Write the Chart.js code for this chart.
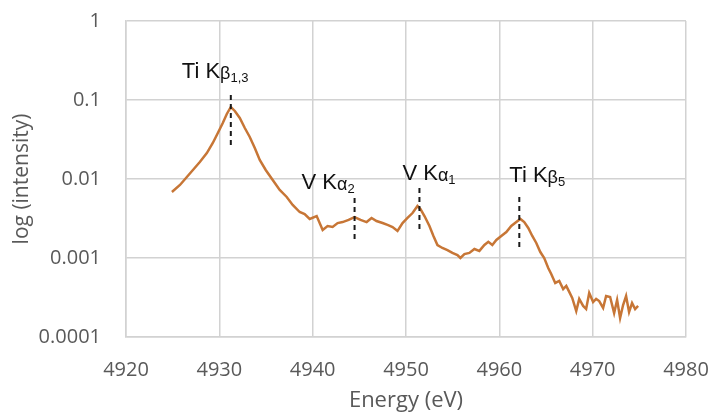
<!DOCTYPE html>
<html>
<head>
<meta charset="utf-8">
<script src="https://cdn.jsdelivr.net/npm/chart.js@4.4.0/dist/chart.umd.min.js"></script>
<style>
  html, body { margin: 0; padding: 0; background: #fff; overflow: hidden; }
  canvas { display: block; }
</style>
</head>
<body>
<canvas id="c" width="712" height="418"></canvas>
<script>
// Spectrum
const energy = [
  4924.92, 4925.78, 4926.52, 4927.17, 4927.91, 4928.66, 4929.30, 4929.84, 4930.37, 4930.80,
  4931.23, 4931.66, 4932.19, 4932.73, 4933.26, 4933.80, 4934.33, 4934.97, 4935.72, 4936.47,
  4937.22, 4937.86, 4938.61, 4939.14, 4939.68, 4940.43, 4941.07, 4941.60, 4942.14, 4942.67,
  4943.21, 4943.85, 4944.49, 4945.13, 4945.78, 4946.31, 4946.84, 4947.49, 4948.02, 4948.56,
  4949.09, 4949.63, 4950.16, 4950.70, 4951.23, 4951.55, 4951.98, 4952.51, 4952.94, 4953.37,
  4953.90, 4954.44, 4954.97, 4955.51, 4955.83, 4956.26, 4956.79, 4957.33, 4957.86, 4958.40,
  4958.82, 4959.25, 4959.68, 4960.21, 4960.75, 4961.28, 4961.82, 4962.25, 4962.67, 4963.10,
  4963.53, 4963.96, 4964.39, 4964.81, 4965.24, 4965.56, 4965.99, 4966.42, 4966.84, 4967.17,
  4967.49, 4967.81, 4968.24, 4968.56, 4968.98, 4969.30, 4969.63, 4970.05, 4970.37, 4970.70,
  4971.12, 4971.44, 4971.87, 4972.30, 4972.62, 4972.94, 4973.26, 4973.58, 4973.90, 4974.22,
  4974.55, 4974.87
];
const intensity = [
  0.00685, 0.0084, 0.0106, 0.0130, 0.0164, 0.0213, 0.0286, 0.0382, 0.0512, 0.0665,
  0.0815, 0.0726, 0.0592, 0.0442, 0.0340, 0.0247, 0.0174, 0.0130, 0.0097, 0.00726,
  0.00592, 0.00469, 0.00382, 0.00360, 0.00312, 0.00340, 0.00226, 0.00254, 0.00247, 0.00277,
  0.00285, 0.00303, 0.00330, 0.00303, 0.00285, 0.00321, 0.00294, 0.00277, 0.00262, 0.00247,
  0.00220, 0.00277, 0.00321, 0.00371, 0.00455, 0.00417, 0.00340, 0.00254, 0.00190, 0.00146,
  0.00134, 0.00126, 0.00116, 0.00109, 0.00100, 0.00112, 0.00116, 0.00130, 0.00123, 0.00146,
  0.00160, 0.00146, 0.00169, 0.00190, 0.00213, 0.00254, 0.00285, 0.00312, 0.00285, 0.00240,
  0.00190, 0.00155, 0.00119, 0.00100, 0.000747, 0.000627, 0.000483, 0.000512, 0.000405, 0.000443,
  0.000372, 0.000312, 0.000213, 0.000303, 0.000247, 0.000226, 0.000361, 0.000277, 0.000303, 0.000285,
  0.000233, 0.000330, 0.000321, 0.000201, 0.000294, 0.000174, 0.000254, 0.000330, 0.000207, 0.000269,
  0.000226, 0.000247
];

// Peak markers (dashed lines)
const markerEnergy = [4931.23, 4944.49, 4951.44, 4962.14];
const markerTop    = [0.1157, 0.00574, 0.00769, 0.00592];
const markerBottom = [0.0247, 0.00169, 0.00226, 0.00126];
const markerMain   = ['Ti K', 'V K', 'V K', 'Ti K'];
const markerGreek  = ['β', 'α', 'α', 'β'];
const markerSub    = ['1,3', '2', '1', '5'];

const yTicks = [0.0001, 0.001, 0.01, 0.1, 1];

const GRID = '#d2d2d2';
const TEXT = '#595959';

const datasets = [{
  label: 'spectrum',
  data: energy.map((e, i) => ({ x: e, y: intensity[i] })),
  borderColor: '#c77636',
  borderWidth: 2.5,
  pointRadius: 0,
  tension: 0,
  order: 2
}];

markerEnergy.forEach((e, i) => {
  datasets.push({
    label: markerMain[i] + markerGreek[i] + markerSub[i],
    data: [{ x: e, y: markerTop[i] }, { x: e, y: markerBottom[i] }],
    borderColor: '#1a1a1a',
    borderWidth: 2,
    borderDash: [5, 4],
    pointRadius: 0,
    order: 1
  });
});

// label offsets in px relative to the top of each dashed line
const labelOffset = [[-49, -17], [-53, -9], [-17, -8], [-10, -15]];

const peakLabels = {
  id: 'peakLabels',
  afterDatasetsDraw(chart) {
    const { ctx, scales: { x, y } } = chart;
    ctx.save();
    ctx.fillStyle = '#111';
    ctx.textBaseline = 'alphabetic';
    ctx.textAlign = 'left';
    markerEnergy.forEach((e, i) => {
      let px = x.getPixelForValue(e) + labelOffset[i][0];
      const py = y.getPixelForValue(markerTop[i]) + labelOffset[i][1];
      ctx.font = '22px "Liberation Sans", Arial, sans-serif';
      ctx.fillText(markerMain[i], px, py);
      px += ctx.measureText(markerMain[i]).width;
      ctx.font = '18px "Liberation Sans", Arial, sans-serif';
      ctx.fillText(markerGreek[i], px, py + 1);
      px += ctx.measureText(markerGreek[i]).width;
      ctx.font = '13px "Liberation Sans", Arial, sans-serif';
      ctx.fillText(markerSub[i], px, py + 4);
    });
    ctx.restore();
  }
};

new Chart(document.getElementById('c'), {
  type: 'line',
  data: { datasets },
  plugins: [peakLabels],
  options: {
    responsive: false,
    animation: false,
    layout: { padding: { top: 21, right: 26, bottom: 0, left: 0 } },
    plugins: { legend: { display: false }, tooltip: { enabled: false } },
    scales: {
      x: {
        type: 'linear',
        min: 4920,
        max: 4980,
        afterFit(scale) {
          scale.height = 81;
          scale.paddingLeft = 0;
          scale.paddingRight = 0;
        },
        ticks: {
          stepSize: 10,
          padding: 21,
          maxRotation: 0,
          color: TEXT,
          font: { family: '"Open Sans", sans-serif', size: 20 },
          callback: v => String(v)
        },
        grid: { color: GRID, lineWidth: 1.5, drawTicks: false },
        border: { color: GRID, width: 1.5 },
        title: {
          display: true,
          text: 'Energy (eV)',
          color: TEXT,
          font: { family: '"Open Sans", sans-serif', size: 22 },
          padding: { top: 0, bottom: 4 }
        }
      },
      y: {
        type: 'logarithmic',
        min: 0.0001,
        max: 1,
        afterFit(scale) {
          scale.width = 126;
          scale.paddingTop = 0;
          scale.paddingBottom = 0;
        },
        afterBuildTicks(scale) { scale.ticks = yTicks.map(v => ({ value: v })); },
        ticks: {
          padding: 25,
          color: TEXT,
          font: { family: '"Open Sans", sans-serif', size: 20 },
          callback: v => String(v)
        },
        grid: { color: GRID, lineWidth: 1.5, drawTicks: false },
        border: { color: GRID, width: 1.5 },
        title: {
          display: true,
          text: 'log (intensity)',
          color: TEXT,
          font: { family: '"Open Sans", sans-serif', size: 21 },
          padding: { top: 9, bottom: 0 }
        }
      }
    }
  }
});
</script>
</body>
</html>
